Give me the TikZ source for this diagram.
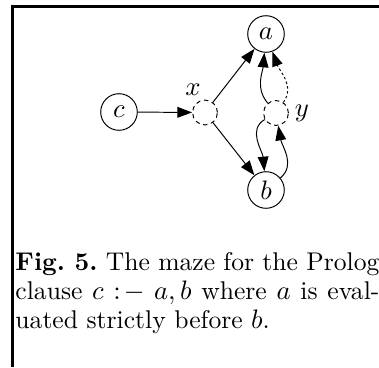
\documentclass[tikz,border=0pt]{standalone}
\usetikzlibrary{arrows.meta}
\begin{document}
\begin{tikzpicture}[x=0.41pt,y=-0.41pt,
  font=\fontsize{10.5}{12}\selectfont,
  state/.style={circle,draw,inner sep=0pt,minimum size=15pt},
  hub/.style={circle,draw,dash pattern=on 1.8pt off 1.5pt,inner sep=0pt,minimum size=10.2pt},
  dotline/.style={dash pattern=on 1pt off 1pt},
  captext/.style={anchor=base west,inner sep=0pt,text width=149.2pt,align=justify},
  frameline/.style={line width=1pt},
  >={Triangle[length=6pt,width=4.4pt]}]
\useasboundingbox (0,0) rectangle (379,367);
\draw[frameline] (12.5,367) -- (12.5,6.5) -- (379,6.5);
\node[state] (c) at (119,112) {$c$};
\node[state] (a) at (266,34) {$a$};
\node[state] (b) at (266,190) {$b$};
\node[hub] (x) at (205,112.5) {};
\node[hub] (y) at (276,113) {};
\node (xl) at (193,90) {$x$};
\node (yl) at (302,113) {$y$};
\draw[->] (c) -- (x);
\draw[->] (x) -- (a);
\draw[->] (x) -- (b);
\draw[->] (y) to[out=130,in=-95] (a);
\draw[->,dotline] (y) to[out=55,in=-70] (a);
\draw[->] (y) to[out=210,in=95] (b);
\draw[->] (b) to[out=40,in=-80] (y);
\node[captext] (cap) at (15,270) {\frenchspacing\baselineskip=10.2pt
\textbf{Fig.\ 5.} The maze for the Prolog\linebreak
clause $c\mathrel{:\!-}a,b$ where $a$ is eval-\linebreak
uated strictly before $b$.};
\end{tikzpicture}
\end{document}
